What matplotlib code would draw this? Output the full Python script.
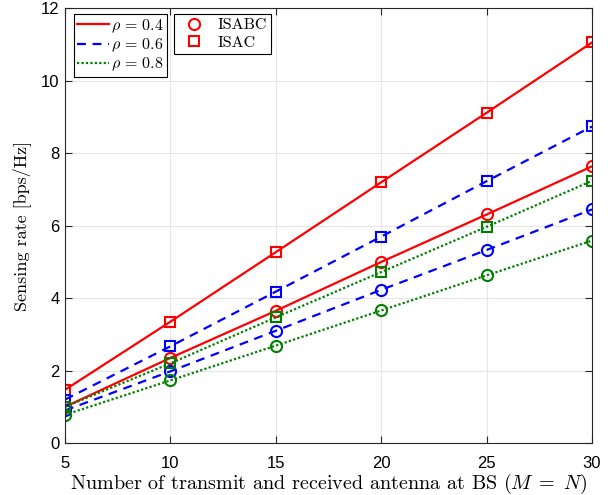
import matplotlib
matplotlib.use('Agg')
import matplotlib.pyplot as plt
from matplotlib.lines import Line2D

plt.rcParams['mathtext.fontset'] = 'cm'
plt.rcParams['font.family'] = 'Liberation Sans'

x = [5, 10, 15, 20, 25, 30]
isac_04 = [1.47, 3.35, 5.27, 7.20, 9.12, 11.06]
isabc_04 = [1.00, 2.35, 3.65, 5.00, 6.31, 7.64]
isac_06 = [1.20, 2.67, 4.18, 5.70, 7.23, 8.74]
isabc_06 = [0.90, 1.98, 3.10, 4.23, 5.33, 6.45]
isac_08 = [1.00, 2.20, 3.47, 4.72, 5.97, 7.24]
isabc_08 = [0.78, 1.73, 2.69, 3.66, 4.63, 5.59]

rhos = ['0.4', '0.6', '0.8']
colors = ['#ff0000', '#0000ff', '#008000']
styles = ['-', (0, (4, 3)), (0, (1, 1))]

fig = plt.figure(figsize=(6.15, 4.95), dpi=100)
ax = fig.add_axes([0.1057, 0.105, 0.857, 0.878])

series = [(isac_04, isabc_04), (isac_06, isabc_06), (isac_08, isabc_08)]
for (sq, ci), c, ls in zip(series, colors, styles):
    ax.plot(x, sq, color=c, ls=ls, lw=1.6, marker='s', ms=7.5, mfc='none', mew=1.5)
    ax.plot(x, ci, color=c, ls=ls, lw=1.6, marker='o', ms=8, mfc='none', mew=1.5)

ax.set_xlim(5, 30)
ax.set_ylim(0, 12)
ax.set_xticks(x)
ax.set_yticks(range(0, 13, 2))
ax.grid(True, color='#e6e6e6', lw=0.8)
ax.set_axisbelow(True)
ax.tick_params(direction='in', labelsize=12, top=True, right=True, length=5,
               color='#262626', pad=4)
ax.tick_params(axis='x', pad=9)
for s in ax.spines.values():
    s.set_color('#262626')
    s.set_linewidth(0.8)

ax.set_xlabel(r'Number of transmit and received antenna at BS $(M\;=\;N)$',
              fontdict={'family': 'cmr10', 'size': 14.5}, labelpad=1)
ax.set_ylabel('Sensing rate [bps/Hz]', fontdict={'family': 'cmr10', 'size': 13}, labelpad=7)

h1 = [Line2D([], [], color=c, ls=ls, lw=1.6) for c, ls in zip(colors, styles)]
leg1 = ax.legend(h1, [r'$\rho\,=\,%s$' % r for r in rhos], loc='upper left',
                 bbox_to_anchor=(0.017, 0.987), fontsize=11.5, handlelength=2.0,
                 handletextpad=0.1, fancybox=False, edgecolor='black',
                 framealpha=1, borderpad=0.2, labelspacing=0.12, borderaxespad=0)
leg1.get_frame().set_linewidth(0.8)
ax.add_artist(leg1)

h2 = [Line2D([], [], color='red', ls='none', marker='o', ms=8, mfc='none', mew=1.5),
      Line2D([], [], color='red', ls='none', marker='s', ms=7.5, mfc='none', mew=1.5)]
leg2 = ax.legend(h2, ['ISABC', 'ISAC'], loc='upper left', bbox_to_anchor=(0.207, 0.987),
                 prop={'family': 'cmr10', 'size': 11.5}, fancybox=False, edgecolor='black',
                 framealpha=1, borderpad=0.25, labelspacing=0.2, borderaxespad=0,
                 handletextpad=0.5)
leg2.get_frame().set_linewidth(0.8)

fig.savefig('out.png', dpi=100)
